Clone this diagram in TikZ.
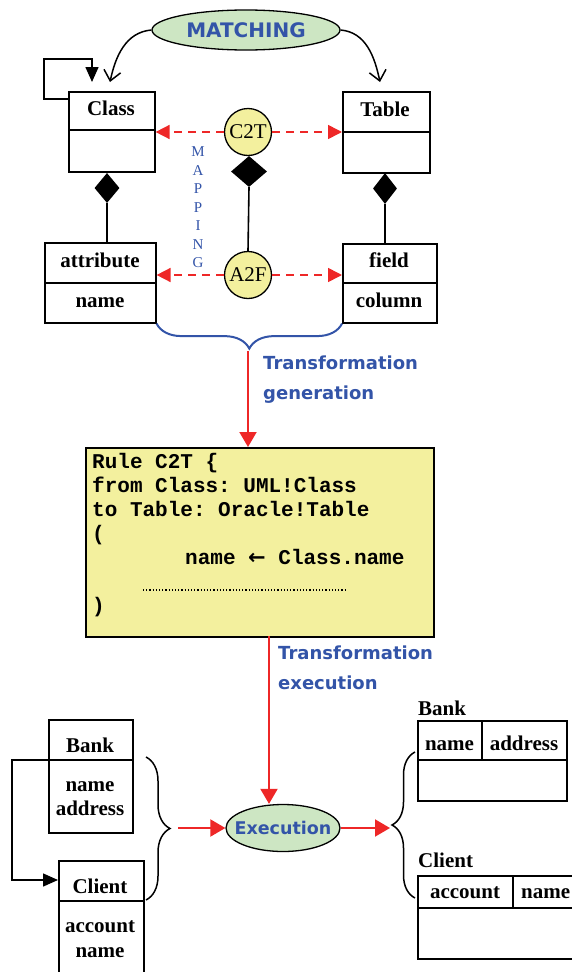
\documentclass[tikz,border=0pt]{standalone}
\usepackage{fontspec}
\setmainfont{Liberation Serif}
\setmonofont{Liberation Mono}
\newfontfamily\handfont{DejaVu Sans}
\newfontfamily\symfont{DejaVu Sans}
\usetikzlibrary{arrows.meta,shapes.geometric,decorations.pathreplacing}
\definecolor{inkblue}{HTML}{3354A8}
\definecolor{inkred}{HTML}{EE2727}
\definecolor{notefill}{HTML}{F3F09E}
\definecolor{ovalfill}{HTML}{CDE6C3}
\begin{document}
\begin{tikzpicture}[x=1pt,y=-1pt,
  umlbox/.style={draw, line width=1.6pt, anchor=north west, inner sep=0pt},
  rule/.style={line width=1.6pt},
  clsname/.style={font=\fontsize{21}{24}\selectfont\bfseries, inner sep=0pt, anchor=base},
  role/.style={circle, draw, line width=1.3pt, fill=notefill, minimum size=47pt, inner sep=0pt, font=\fontsize{21}{24}\selectfont},
  compo/.style={diamond, fill=black, inner sep=0pt},
  oval/.style={ellipse, draw, line width=1.3pt, fill=ovalfill, inner sep=0pt},
  ovaltext/.style={text=inkblue, inner sep=0pt, font=\handfont\bfseries\fontsize{#1}{24}\selectfont},
  mapline/.style={inkred, dash pattern=on 8pt off 6pt, line width=1.6pt, -{Triangle[length=14pt,width=14pt]}},
  flow/.style={inkred, line width=2pt, -{Triangle[length=15pt,width=17pt]}},
  arcarrow/.style={line width=1.5pt, -{Straight Barb[length=10pt,width=17pt]}},
  link/.style={line width=1.5pt, -{Triangle[length=15pt,width=13pt]}},
  note/.style={text=inkblue, font=\handfont\bfseries\fontsize{18}{30}\selectfont, align=left, anchor=north west, inner sep=0pt},
  code/.style={font=\ttfamily\bfseries\fontsize{21}{24}\selectfont, align=left, anchor=north west, inner sep=0pt},
]
\useasboundingbox (0,0) rectangle (572,972);
\clip (0,0) rectangle (572,972);

% ---------- metamodels ----------
\node[oval, minimum width=188pt, minimum height=40pt,
      label={[ovaltext=20]center:MATCHING}] (match) at (246,30) {};

\node[umlbox, minimum width=86pt, minimum height=80pt] (class) at (68,91) {};
\draw[rule] (class.west |- 0,130) -- (class.east |- 0,130);
\node[clsname] at (111,115) {Class};

\node[umlbox, minimum width=87pt, minimum height=81pt] (table) at (342,91) {};
\draw[rule] (table.west |- 0,132) -- (table.east |- 0,132);
\node[clsname] at (385,116) {Table};

\node[umlbox, minimum width=111pt, minimum height=80pt] (attr) at (44,242) {};
\draw[rule] (attr.west |- 0,283) -- (attr.east |- 0,283);
\node[clsname] at (100,267) {attribute};
\node[clsname] at (100,307) {name};

\node[umlbox, minimum width=94pt, minimum height=79pt] (field) at (342,243) {};
\draw[rule] (field.west |- 0,283) -- (field.east |- 0,283);
\node[clsname] at (389,267) {field};
\node[clsname] at (389,307) {column};

% self association of Class
\coordinate (loopend) at (92,82);
\draw[link] ([yshift=-8pt]class.north west) -- ++(-24,0) -- ++(0,-40) -| (loopend);

% matching arrows
\coordinate (mclass) at (110,82);
\coordinate (mtable) at (380,82);
\draw[arcarrow] (match.west) to[out=185,in=78] (mclass);
\draw[arcarrow] (match.east) to[out=-5,in=102] (mtable);

% compositions
\node[compo, minimum width=25pt, minimum height=30pt] (dclass) at (107,188) {};
\draw[rule] (dclass.south) -- (dclass.south |- attr.north);
\node[compo, minimum width=24pt, minimum height=31pt] (dtable) at (385,188.5) {};
\draw[rule] (dtable.south) -- (dtable.south |- field.north);

% mapping rules
\node[role] (c2t) at (248,132) {C2T};
\node[role] (a2f) at (248,275) {A2F};
\node[compo, minimum width=36pt, minimum height=31pt] (dmap) at (249,171.5) {};
\draw[rule] (dmap.south) -- (a2f.north);

\draw[mapline] (c2t) -- (class.east |- c2t);
\draw[mapline] (c2t) -- (table.west |- c2t);
\draw[mapline] (a2f) -- (attr.east |- a2f);
\draw[mapline] (a2f) -- (field.west |- a2f);

\node[text=inkblue, font=\fontsize{15}{18.5}\selectfont, align=center, inner sep=0pt] (maplbl) at (198,207.5) {M\\A\\P\\P\\I\\N\\G};

% ---------- transformation generation ----------
\draw[inkblue, line width=2pt, decorate, decoration={brace, mirror, amplitude=25pt}] (attr.south east) -- (field.south west);
\coordinate (gtip) at (248,351);

\node[draw, line width=1.6pt, fill=notefill, anchor=north west, minimum width=348pt, minimum height=189pt, inner sep=0pt] (rulebox) at (85,447) {};
\draw[flow] (gtip) -- (gtip |- rulebox.north);
\node[note] (gen) at (263,356) {Transformation\\generation};

\node[code] (rulecode) at (92,453) {Rule C2T \{\\from Class: UML!Class\\to Table: Oracle!Table\\(\\\hspace*{93pt}name {\symfont\bfseries ←} Class.name\\\mbox{}\\)};
\draw[line width=1.2pt, dash pattern=on 1.2pt off 2pt] (143,590) -- (347,590);

% ---------- transformation execution ----------
\node[oval, minimum width=114pt, minimum height=47pt,
      label={[ovaltext=17.5]center:Execution}] (exec) at (283,828) {};
\coordinate (etop) at (269,636);
\draw[flow] (etop) -- (etop |- exec.north);
\node[note] (execlbl) at (278,646) {Transformation\\execution};

% source model
\node[umlbox, minimum width=84pt, minimum height=113pt] (bank) at (48,719) {};
\draw[rule] (bank.west |- 0,760) -- (bank.east |- 0,760);
\node[clsname] at (90,752) {Bank};
\node[clsname] at (90,791) {name};
\node[clsname] at (90,815) {address};

\node[umlbox, minimum width=85pt, minimum height=130pt] (client) at (58,860) {};
\draw[rule] (client.west |- 0,901) -- (client.east |- 0,901);
\node[clsname] at (100,893) {Client};
\node[clsname] at (100,932) {account};
\node[clsname] at (100,957) {name};

\draw[link] (bank.west |- 0,760) -- ++(-36,0) |- (client.west |- 0,880);

\draw[line width=1.5pt, decorate, decoration={brace, amplitude=24pt}] (146,757) -- (146,900);
\coordinate (lin) at (178,828);
\draw[flow] (lin) -- (exec.west);

% target model
\coordinate (rout) at (390,828);
\draw[flow] (exec.east) -- (rout);
\draw[line width=1.5pt, decorate, decoration={brace, mirror, amplitude=23pt}] (415,752) -- (415,898);

\node[clsname, anchor=base west] at (418,715) {Bank};
\node[umlbox, minimum width=149pt, minimum height=80pt] (tbank) at (417,720) {};
\draw[rule] (tbank.west |- 0,760) -- (tbank.east |- 0,760);
\draw[rule] (482,720) -- (482,760);
\node[clsname] at (449.5,750) {name};
\node[clsname] at (524,750) {address};

\node[clsname, anchor=base west] at (418,867) {Client};
\node[umlbox, minimum width=180pt, minimum height=83pt] (tclient) at (417,875) {};
\draw[rule] (tclient.west |- 0,908) -- (tclient.east |- 0,908);
\draw[rule] (513,875) -- (513,908);
\node[clsname] at (465,898) {account};
\node[clsname, anchor=base west] at (521,898) {name};
\end{tikzpicture}
\end{document}
